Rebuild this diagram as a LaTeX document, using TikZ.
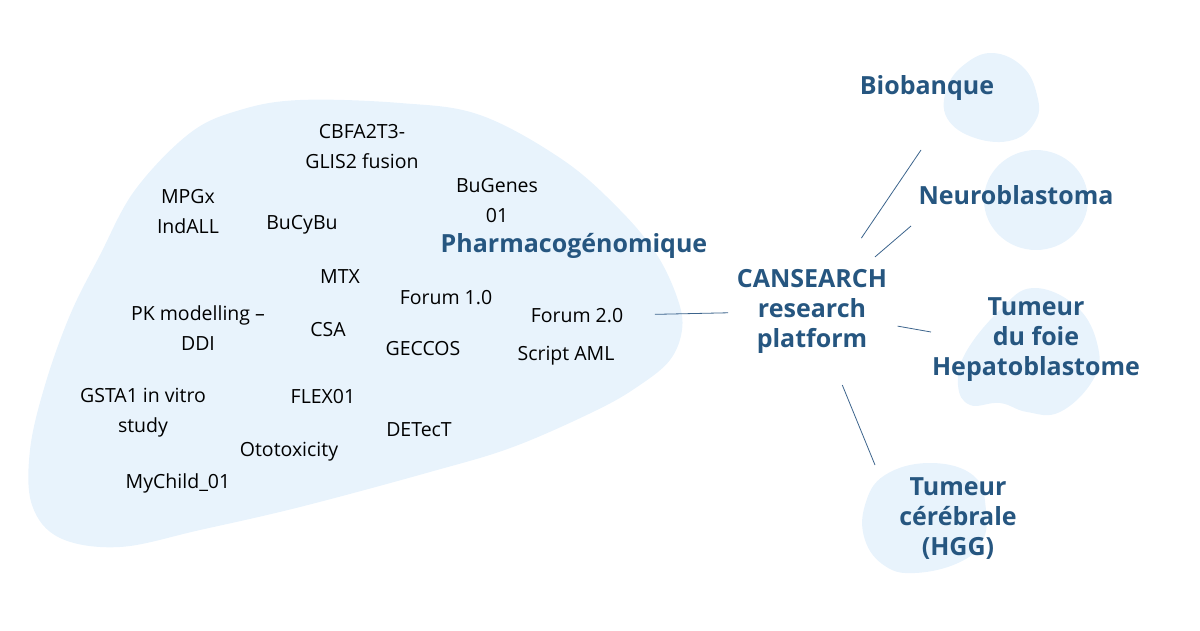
\documentclass[tikz,border=0pt]{standalone}
\usepackage{fontspec}
\setmainfont{Open Sans}
\usepackage{tikz}
\definecolor{cansblue}{RGB}{38,86,128}
\definecolor{blobfill}{RGB}{232,243,252}
\definecolor{linkcol}{RGB}{60,100,140}
\tikzstyle{item} = [text=black, align=center, inner sep=0pt, font=\fontsize{19.5}{30}\selectfont]
\tikzstyle{theme} = [text=cansblue, align=center, inner sep=0pt, font=\fontsize{25}{30}\selectfont\bfseries]
\tikzstyle{blob} = [fill=blobfill]
\tikzstyle{link} = [draw=linkcol, line width=0.8pt]

\begin{document}
\begin{tikzpicture}[x=1pt, y=-1pt]
    \useasboundingbox (0,0) rectangle (1200,630);
    % Background blobs
    \fill [blob] plot [smooth cycle, tension=0.6] coordinates {(300,100) (400,103) (480,115) (563,160) (620,210) (657,255) (678,300) (682,330) (670,360) (640,385) (597,410) (513,447) (430,472) (300,507) (200,530) (120,547) (60,538) (32,505) (30,450) (45,385) (70,315) (100,255) (135,190) (190,133) (240,110)};
    \fill [blob] plot [smooth cycle, tension=0.7] coordinates {(993,53) (1023,67) (1037,95) (1036,120) (1013,140) (975,138) (947,118) (947,88) (965,64)};
    \fill [blob] (1036,200) circle [x radius=52pt, y radius=50pt];
    \fill [blob] plot [smooth cycle, tension=0.7] coordinates {(1033,288) (1077,307) (1098,347) (1093,380) (1060,412) (1027,412) (1000,403) (970,405) (958,385) (966,352) (1000,310)};
    \fill [blob] plot [smooth cycle, tension=0.7] coordinates {(931,463) (974,476) (986,510) (982,542) (958,563) (915,573) (885,566) (865,540) (865,505) (885,475)};
    % Define the nodes
    \node [theme] (platform) at (812,311) {CANSEARCH\\research\\platform};
    \node [theme] (pharma) at (574,246) {Pharmacogénomique};
    \node [theme] (biobanque) at (927,88) {Biobanque};
    \node [theme] (neuro) at (1016,195) {Neuroblastoma};
    \node [theme] (foie) at (1036,340) {Tumeur\\du foie\\Hepatoblastome};
    \node [theme] (cerebrale) at (958,519) {Tumeur\\cérébrale\\(HGG)};
    \node [item] (cbfa) at (362,147) {CBFA2T3-\\GLIS2 fusion};
    \node [item] (mpgx) at (188,212) {MPGx\\IndALL};
    \node [item] (bucybu) at (302,225) {BuCyBu};
    \node [item] (bugenes) at (497,201) {BuGenes\\01};
    \node [item] (mtx) at (340,277) {MTX};
    \node [item] (forum1) at (446,298) {Forum 1.0};
    \node [item] (pkmod) at (198,328) {PK modelling –\\DDI};
    \node [item] (csa) at (328,330) {CSA};
    \node [item] (forum2) at (577,316) {Forum 2.0};
    \node [item] (geccos) at (423,349) {GECCOS};
    \node [item] (script) at (566,356) {Script AML};
    \node [item] (gsta) at (143,413) {GSTA1 in vitro\\study};
    \node [item] (flex) at (323,397) {FLEX01};
    \node [item] (detect) at (419,430) {DETecT};
    \node [item] (ototox) at (289,452) {Ototoxicity};
    \node [item] (mychild) at (178,483) {MyChild\_01};
    \coordinate (bio-end) at (921,150);
    \coordinate (neuro-end) at (911,226);
    \coordinate (foie-end) at (931,332);
    \coordinate (cere-end) at (875,465);
    % Connect the nodes
    \draw [link, shorten <=78pt, shorten >=84pt] (forum2.center) -- (platform.center);
    \draw [link, shorten <=88pt] (platform.center) -- (bio-end);
    \draw [link, shorten <=83pt] (platform.center) -- (neuro-end);
    \draw [link, shorten <=87pt] (platform.center) -- (foie-end);
    \draw [link, shorten <=80pt] (platform.center) -- (cere-end);
\end{tikzpicture}
\end{document}
